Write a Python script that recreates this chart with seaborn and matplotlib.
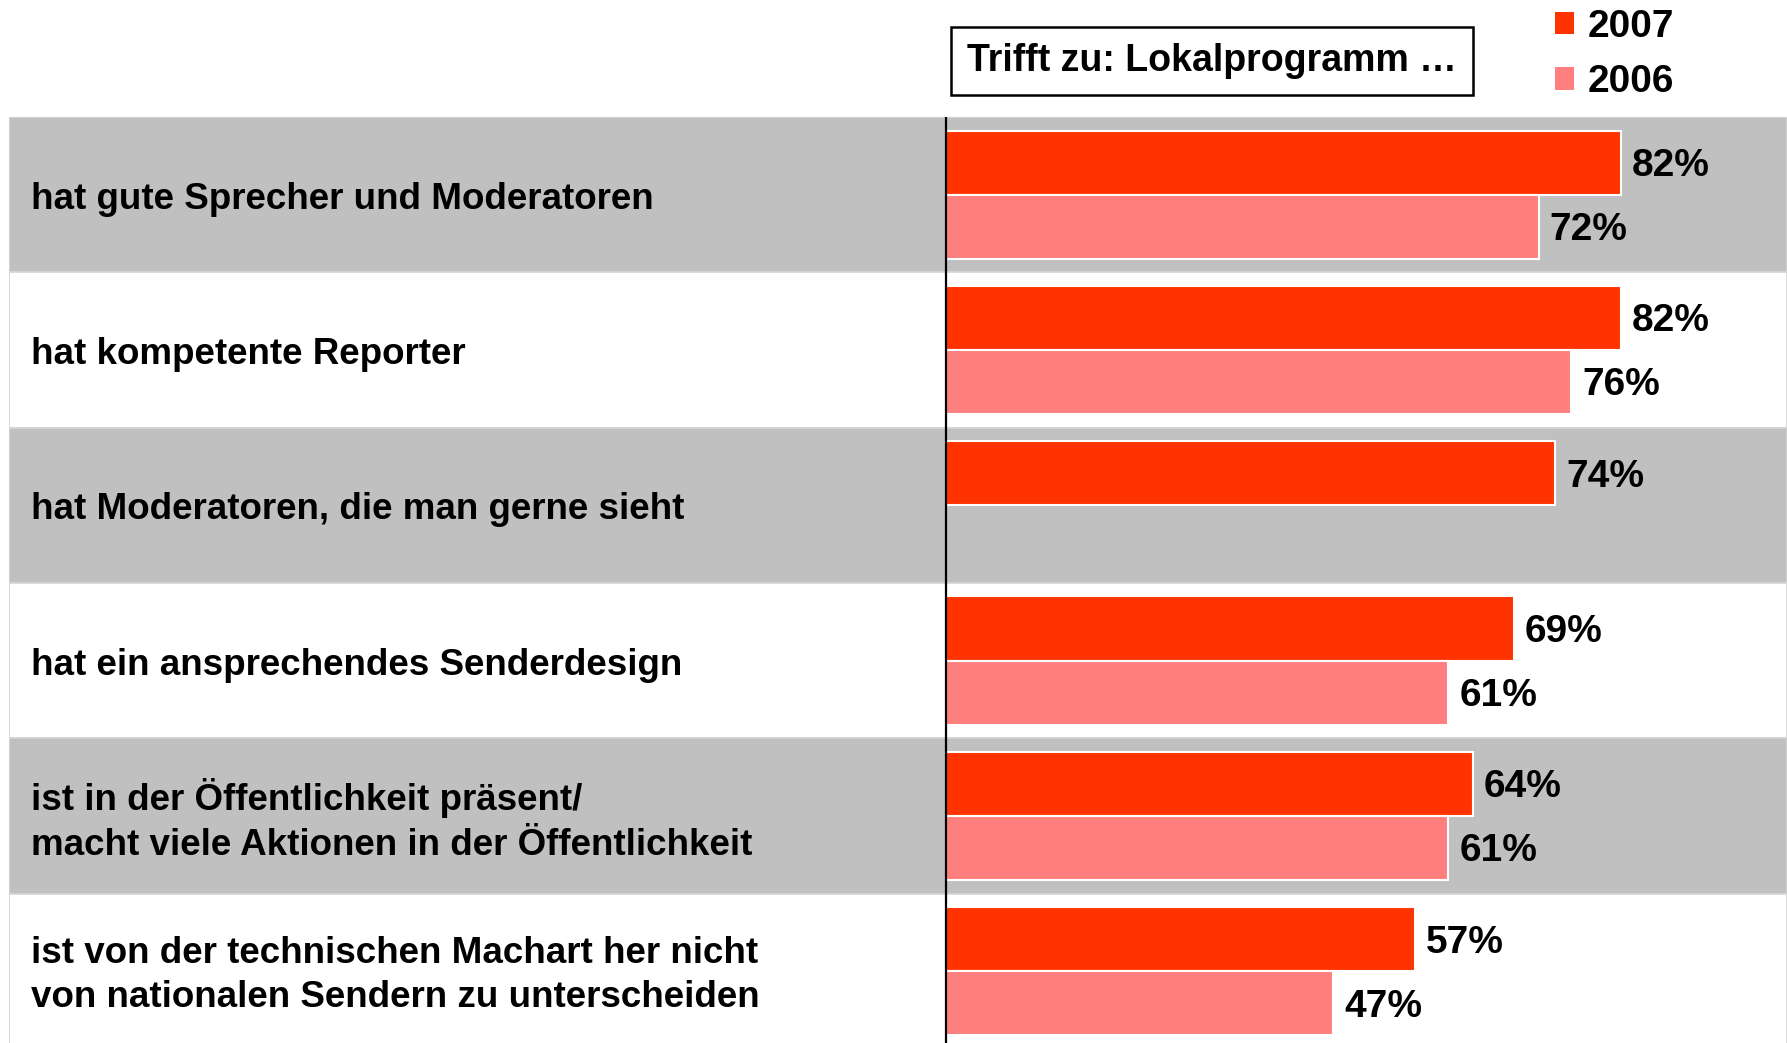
import matplotlib
matplotlib.use("Agg")
import matplotlib.pyplot as plt
from matplotlib.patches import Patch
import numpy as np
import pandas as pd
import seaborn as sns

categories = [
    "hat gute Sprecher und Moderatoren",
    "hat kompetente Reporter",
    "hat Moderatoren, die man gerne sieht",
    "hat ein ansprechendes Senderdesign",
    "ist in der Öffentlichkeit präsent/\nmacht viele Aktionen in der Öffentlichkeit",
    "ist von der technischen Machart her nicht\nvon nationalen Sendern zu unterscheiden",
]
values_2007 = [82, 82, 74, 69, 64, 57]
values_2006 = [72, 76, np.nan, 61, 61, 47]
years = ["2007", "2006"]
colors = {"2007": "#FF3300", "2006": "#FF7F7F"}
title_text = "Trifft zu: Lokalprogramm …"

df = pd.DataFrame({
    "Kategorie": categories * 2,
    "Wert": values_2007 + values_2006,
    "Jahr": ["2007"] * len(categories) + ["2006"] * len(categories),
})

sns.set_theme(style="white")
plt.rcParams["font.family"] = ["Liberation Sans", "DejaVu Sans"]
plt.rcParams["font.weight"] = "bold"
plt.rcParams["text.color"] = "black"

W, H = 1787, 1043
fig = plt.figure(figsize=(W / 100, H / 100), dpi=100)
ax_left, ax_top = 9, 117
band_px = 155.3
ax_h = band_px * len(categories)
zero_px = 946
px_per_unit = 8.23
ax = fig.add_axes([ax_left / W, 1 - (ax_top + ax_h) / H, (W - ax_left) / W, ax_h / H])
xmin = -(zero_px - ax_left) / px_per_unit
xmax = (W - zero_px) / px_per_unit
ax.set_facecolor("white")

sns.barplot(data=df, y="Kategorie", x="Wert", hue="Jahr", hue_order=years,
            order=categories, palette=colors, orient="h", width=0.825,
            saturation=1, edgecolor="white", linewidth=1.5, ax=ax, legend=False,
            zorder=3)

ax.set_xlim(xmin, xmax)
ax.set_ylim(len(categories) - 0.5, -0.5)

for i in range(len(categories)):
    fc = "#C0C0C0" if i % 2 == 0 else "white"
    ax.axhspan(i - 0.5, i + 0.5, facecolor=fc, edgecolor="#D4D4D4", lw=1.2, zorder=0)
    ax.text(xmin + (31 - ax_left) / px_per_unit, i + 0.03, categories[i], ha="left", va="center",
            fontsize=26.5, fontweight="bold", color="black", linespacing=1.34, zorder=4)

ax.axvline(0, color="black", lw=1.6, zorder=5)

for cont in ax.containers:
    labels = [f"{v:.0f}%" for v in cont.datavalues]
    anns = ax.bar_label(cont, labels=labels, padding=8, fontsize=28, fontweight="bold",
                        color="black", zorder=6)
    for a in anns:
        a.xyann = (8, -2.5)

ax.set_xlabel("")
ax.set_ylabel("")
ax.set_xticks([])
ax.set_yticks([])
for s in ax.spines.values():
    s.set_visible(False)

# title box
fig.text((947 + 1477) / 2 / W, 1 - 61 / H, title_text, ha="center", va="center",
         fontsize=27, fontweight="bold", color="black",
         bbox=dict(boxstyle="square,pad=0.42", facecolor="white", edgecolor="black", lw=1.8))

# legend
handles = [Patch(facecolor=colors[y], edgecolor="none") for y in years]
leg = fig.legend(handles, years, loc="upper left", bbox_to_anchor=(1547 / W, 1 - 1 / H),
                 frameon=False, prop={"weight": "bold", "size": 28}, labelcolor="black",
                 handlelength=0.5, handleheight=0.5, handletextpad=0.35, labelspacing=0.5,
                 borderaxespad=0, borderpad=0.2)
for t in leg.get_texts():
    t.set_fontweight("bold")
    t.set_color("black")

fig.savefig("out.png", dpi=100)
